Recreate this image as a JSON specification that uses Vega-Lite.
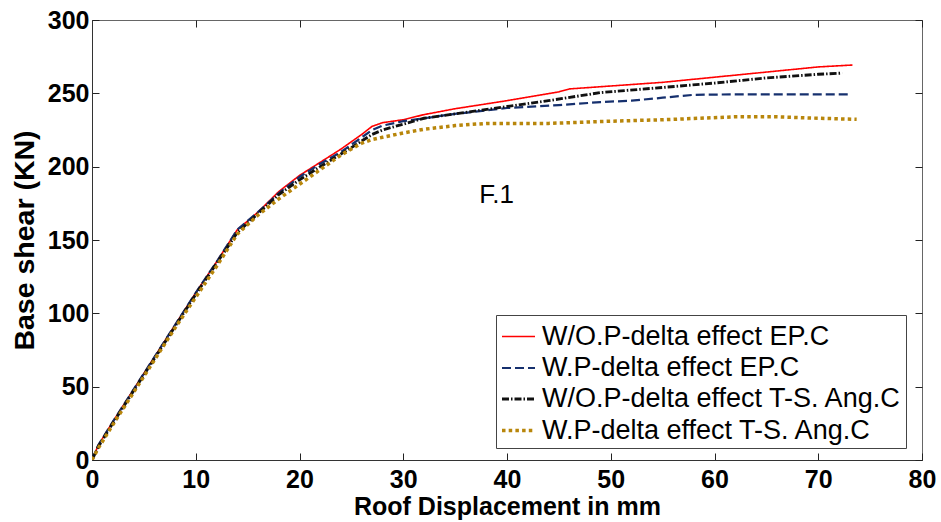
{
  "$schema": "https://vega.github.io/schema/vega-lite/v6.json",
  "autosize": "none",
  "width": 830,
  "height": 440,
  "padding": {"left": 92, "top": 20, "right": 19, "bottom": 62},
  "background": "white",
  "config": {
    "view": {"stroke": "#666", "strokeWidth": 1},
    "font": "Liberation Sans",
    "axis": {
      "grid": false,
      "domainColor": "#333",
      "tickColor": "#222",
      "tickSize": -7,
      "labelFont": "Liberation Sans",
      "labelFontWeight": "bold",
      "labelFontSize": 25,
      "labelColor": "#000",
      "titleFont": "Liberation Sans",
      "titleFontWeight": "bold",
      "titleFontSize": 25,
      "titleColor": "#000"
    }
  },
  "datasets": {
    "curves": [
      {"s": "W/O.P-delta effect EP.C", "x": 0, "y": 0},
      {"s": "W/O.P-delta effect EP.C", "x": 0.6, "y": 10},
      {"s": "W/O.P-delta effect EP.C", "x": 2, "y": 26},
      {"s": "W/O.P-delta effect EP.C", "x": 4, "y": 48},
      {"s": "W/O.P-delta effect EP.C", "x": 6, "y": 70},
      {"s": "W/O.P-delta effect EP.C", "x": 8, "y": 92},
      {"s": "W/O.P-delta effect EP.C", "x": 10, "y": 114},
      {"s": "W/O.P-delta effect EP.C", "x": 12, "y": 135},
      {"s": "W/O.P-delta effect EP.C", "x": 14, "y": 157},
      {"s": "W/O.P-delta effect EP.C", "x": 15, "y": 163},
      {"s": "W/O.P-delta effect EP.C", "x": 16, "y": 169},
      {"s": "W/O.P-delta effect EP.C", "x": 18, "y": 183},
      {"s": "W/O.P-delta effect EP.C", "x": 20, "y": 194},
      {"s": "W/O.P-delta effect EP.C", "x": 22, "y": 203},
      {"s": "W/O.P-delta effect EP.C", "x": 24, "y": 212},
      {"s": "W/O.P-delta effect EP.C", "x": 25, "y": 217},
      {"s": "W/O.P-delta effect EP.C", "x": 26, "y": 222},
      {"s": "W/O.P-delta effect EP.C", "x": 27, "y": 227.5},
      {"s": "W/O.P-delta effect EP.C", "x": 28, "y": 230},
      {"s": "W/O.P-delta effect EP.C", "x": 30, "y": 232},
      {"s": "W/O.P-delta effect EP.C", "x": 32, "y": 235.5},
      {"s": "W/O.P-delta effect EP.C", "x": 35, "y": 239.5},
      {"s": "W/O.P-delta effect EP.C", "x": 40, "y": 245},
      {"s": "W/O.P-delta effect EP.C", "x": 45, "y": 251},
      {"s": "W/O.P-delta effect EP.C", "x": 46, "y": 253},
      {"s": "W/O.P-delta effect EP.C", "x": 50, "y": 255},
      {"s": "W/O.P-delta effect EP.C", "x": 55, "y": 257.5},
      {"s": "W/O.P-delta effect EP.C", "x": 60, "y": 261},
      {"s": "W/O.P-delta effect EP.C", "x": 65, "y": 264.5},
      {"s": "W/O.P-delta effect EP.C", "x": 70, "y": 268},
      {"s": "W/O.P-delta effect EP.C", "x": 73.3, "y": 269.3},

      {"s": "W.P-delta effect EP.C", "x": 0, "y": 0},
      {"s": "W.P-delta effect EP.C", "x": 0.6, "y": 10},
      {"s": "W.P-delta effect EP.C", "x": 2, "y": 26},
      {"s": "W.P-delta effect EP.C", "x": 4, "y": 48},
      {"s": "W.P-delta effect EP.C", "x": 6, "y": 70},
      {"s": "W.P-delta effect EP.C", "x": 8, "y": 92},
      {"s": "W.P-delta effect EP.C", "x": 10, "y": 114},
      {"s": "W.P-delta effect EP.C", "x": 12, "y": 135},
      {"s": "W.P-delta effect EP.C", "x": 14, "y": 157},
      {"s": "W.P-delta effect EP.C", "x": 15, "y": 163},
      {"s": "W.P-delta effect EP.C", "x": 16, "y": 169},
      {"s": "W.P-delta effect EP.C", "x": 18, "y": 182},
      {"s": "W.P-delta effect EP.C", "x": 20, "y": 193},
      {"s": "W.P-delta effect EP.C", "x": 22, "y": 202},
      {"s": "W.P-delta effect EP.C", "x": 24, "y": 210},
      {"s": "W.P-delta effect EP.C", "x": 26, "y": 220},
      {"s": "W.P-delta effect EP.C", "x": 27, "y": 225},
      {"s": "W.P-delta effect EP.C", "x": 28, "y": 228},
      {"s": "W.P-delta effect EP.C", "x": 30, "y": 231},
      {"s": "W.P-delta effect EP.C", "x": 32, "y": 233},
      {"s": "W.P-delta effect EP.C", "x": 35, "y": 236},
      {"s": "W.P-delta effect EP.C", "x": 40, "y": 240},
      {"s": "W.P-delta effect EP.C", "x": 45, "y": 242},
      {"s": "W.P-delta effect EP.C", "x": 49, "y": 244},
      {"s": "W.P-delta effect EP.C", "x": 52, "y": 245},
      {"s": "W.P-delta effect EP.C", "x": 55, "y": 247},
      {"s": "W.P-delta effect EP.C", "x": 58, "y": 249},
      {"s": "W.P-delta effect EP.C", "x": 62, "y": 249.3},
      {"s": "W.P-delta effect EP.C", "x": 73, "y": 249.3},

      {"s": "W/O.P-delta effect T-S. Ang.C", "x": 0, "y": 0},
      {"s": "W/O.P-delta effect T-S. Ang.C", "x": 0.6, "y": 9},
      {"s": "W/O.P-delta effect T-S. Ang.C", "x": 2, "y": 25},
      {"s": "W/O.P-delta effect T-S. Ang.C", "x": 4, "y": 47},
      {"s": "W/O.P-delta effect T-S. Ang.C", "x": 6, "y": 69},
      {"s": "W/O.P-delta effect T-S. Ang.C", "x": 8, "y": 91},
      {"s": "W/O.P-delta effect T-S. Ang.C", "x": 10, "y": 113},
      {"s": "W/O.P-delta effect T-S. Ang.C", "x": 12, "y": 134},
      {"s": "W/O.P-delta effect T-S. Ang.C", "x": 14, "y": 155},
      {"s": "W/O.P-delta effect T-S. Ang.C", "x": 16, "y": 168},
      {"s": "W/O.P-delta effect T-S. Ang.C", "x": 18, "y": 181},
      {"s": "W/O.P-delta effect T-S. Ang.C", "x": 20, "y": 191},
      {"s": "W/O.P-delta effect T-S. Ang.C", "x": 22, "y": 200},
      {"s": "W/O.P-delta effect T-S. Ang.C", "x": 25, "y": 213},
      {"s": "W/O.P-delta effect T-S. Ang.C", "x": 27, "y": 222},
      {"s": "W/O.P-delta effect T-S. Ang.C", "x": 28, "y": 225},
      {"s": "W/O.P-delta effect T-S. Ang.C", "x": 30, "y": 229},
      {"s": "W/O.P-delta effect T-S. Ang.C", "x": 32, "y": 233},
      {"s": "W/O.P-delta effect T-S. Ang.C", "x": 35, "y": 236},
      {"s": "W/O.P-delta effect T-S. Ang.C", "x": 40, "y": 241},
      {"s": "W/O.P-delta effect T-S. Ang.C", "x": 44, "y": 245},
      {"s": "W/O.P-delta effect T-S. Ang.C", "x": 49, "y": 250.5},
      {"s": "W/O.P-delta effect T-S. Ang.C", "x": 55, "y": 254},
      {"s": "W/O.P-delta effect T-S. Ang.C", "x": 60, "y": 257},
      {"s": "W/O.P-delta effect T-S. Ang.C", "x": 65, "y": 260.5},
      {"s": "W/O.P-delta effect T-S. Ang.C", "x": 70, "y": 263},
      {"s": "W/O.P-delta effect T-S. Ang.C", "x": 72.3, "y": 263.8},

      {"s": "W.P-delta effect T-S. Ang.C", "x": 0, "y": 0},
      {"s": "W.P-delta effect T-S. Ang.C", "x": 0.6, "y": 8},
      {"s": "W.P-delta effect T-S. Ang.C", "x": 2, "y": 24},
      {"s": "W.P-delta effect T-S. Ang.C", "x": 4, "y": 46},
      {"s": "W.P-delta effect T-S. Ang.C", "x": 6, "y": 68},
      {"s": "W.P-delta effect T-S. Ang.C", "x": 8, "y": 90},
      {"s": "W.P-delta effect T-S. Ang.C", "x": 10, "y": 111},
      {"s": "W.P-delta effect T-S. Ang.C", "x": 12, "y": 132},
      {"s": "W.P-delta effect T-S. Ang.C", "x": 14, "y": 154},
      {"s": "W.P-delta effect T-S. Ang.C", "x": 16, "y": 167},
      {"s": "W.P-delta effect T-S. Ang.C", "x": 18, "y": 178},
      {"s": "W.P-delta effect T-S. Ang.C", "x": 20, "y": 188},
      {"s": "W.P-delta effect T-S. Ang.C", "x": 22, "y": 198},
      {"s": "W.P-delta effect T-S. Ang.C", "x": 24, "y": 208},
      {"s": "W.P-delta effect T-S. Ang.C", "x": 26, "y": 216},
      {"s": "W.P-delta effect T-S. Ang.C", "x": 27, "y": 218.5},
      {"s": "W.P-delta effect T-S. Ang.C", "x": 28, "y": 220},
      {"s": "W.P-delta effect T-S. Ang.C", "x": 30, "y": 223},
      {"s": "W.P-delta effect T-S. Ang.C", "x": 32, "y": 225.5},
      {"s": "W.P-delta effect T-S. Ang.C", "x": 35, "y": 228},
      {"s": "W.P-delta effect T-S. Ang.C", "x": 38, "y": 229.5},
      {"s": "W.P-delta effect T-S. Ang.C", "x": 44, "y": 229.5},
      {"s": "W.P-delta effect T-S. Ang.C", "x": 50, "y": 231},
      {"s": "W.P-delta effect T-S. Ang.C", "x": 55, "y": 232},
      {"s": "W.P-delta effect T-S. Ang.C", "x": 62, "y": 234},
      {"s": "W.P-delta effect T-S. Ang.C", "x": 66, "y": 234},
      {"s": "W.P-delta effect T-S. Ang.C", "x": 70, "y": 233},
      {"s": "W.P-delta effect T-S. Ang.C", "x": 73.7, "y": 232.3}
    ],
    "notes": [{"x": 39, "y": 181, "label": "F.1"}]
  },
  "resolve": {"axis": {"x": "independent", "y": "independent"}},
  "layer": [
    {
      "data": {"name": "curves"},
      "mark": {"type": "line", "clip": true},
      "encoding": {
        "x": {
          "field": "x", "type": "quantitative",
          "scale": {"domain": [0, 80], "nice": false, "zero": false},
          "axis": {"title": "Roof Displacement in mm", "values": [0, 10, 20, 30, 40, 50, 60, 70, 80], "labelPadding": 14, "titlePadding": 2, "labelFlush": false}
        },
        "y": {
          "field": "y", "type": "quantitative",
          "scale": {"domain": [0, 300], "nice": false},
          "axis": {"title": "Base shear (KN)", "titleFontSize": 28.5, "values": [0, 50, 100, 150, 200, 250, 300], "labelPadding": 10, "titlePadding": 8}
        },
        "color": {
          "field": "s", "type": "nominal",
          "scale": {
            "domain": ["W/O.P-delta effect EP.C", "W.P-delta effect EP.C", "W/O.P-delta effect T-S. Ang.C", "W.P-delta effect T-S. Ang.C"],
            "range": ["#ff0000", "#16306e", "#111111", "#b8860b"]
          },
          "legend": {
            "title": null,
            "orient": "none",
            "legendX": 404,
            "legendY": 295,
            "symbolType": "stroke",
            "symbolSize": 1089,
            "labelFont": "Liberation Sans",
            "labelFontSize": 27,
            "labelColor": "#000",
            "labelLimit": 500,
            "labelOffset": 5,
            "rowPadding": -1,
            "padding": 4,
            "strokeColor": "#444",
            "fillColor": "white",
            "symbolOffset": 0
          }
        },
        "strokeDash": {
          "field": "s", "type": "nominal",
          "scale": {
            "domain": ["W/O.P-delta effect EP.C", "W.P-delta effect EP.C", "W/O.P-delta effect T-S. Ang.C", "W.P-delta effect T-S. Ang.C"],
            "range": [[1, 0], [9, 4], [7, 2, 1.5, 2], [3.5, 3.2]]
          },
          "legend": null
        },
        "strokeWidth": {
          "field": "s", "type": "nominal",
          "scale": {
            "domain": ["W/O.P-delta effect EP.C", "W.P-delta effect EP.C", "W/O.P-delta effect T-S. Ang.C", "W.P-delta effect T-S. Ang.C"],
            "range": [1.6, 3.5, 1.2, 3.5]
          },
          "legend": null
        }
      }
    },
    {
      "data": {"name": "notes"},
      "mark": {"type": "text", "font": "Liberation Sans", "fontSize": 26, "align": "center", "baseline": "middle", "color": "#000"},
      "encoding": {
        "x": {"field": "x", "type": "quantitative", "scale": {"domain": [0, 80], "nice": false, "zero": false},
              "axis": {"orient": "top", "title": null, "labels": false, "domain": false, "values": [0, 10, 20, 30, 40, 50, 60, 70, 80]}},
        "y": {"field": "y", "type": "quantitative", "scale": {"domain": [0, 300], "nice": false},
              "axis": {"orient": "right", "title": null, "labels": false, "domain": false, "values": [0, 50, 100, 150, 200, 250, 300]}},
        "text": {"field": "label"}
      }
    }
  ]
}
